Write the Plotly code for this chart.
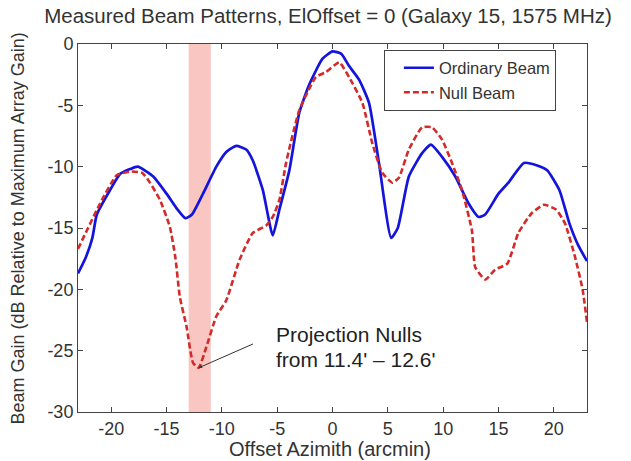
import plotly.graph_objects as go

# Ordinary beam
ord_x = [-23, -22.3, -21.7, -21.3, -20.1, -19.2, -18.3, -17.6, -16.2, -15, -14, -13.3, -12.7, -11.7, -10.5,
         -9.6, -8.7, -7.8, -7.2, -6.3, -5.4, -4.8, -3.9, -3, -2.1, -0.9, 0, 0.8, 1.5, 2.4, 3.3,
         4.2, 5.3, 5.9, 6.9, 8.1, 8.9, 9.9, 11.1, 12.3, 13.2, 13.8, 15, 15.9, 17.3, 18.5,
         19.4, 20.5, 21.4, 22.2, 23]
ord_y = [-18.7, -17.4, -15.8, -13.9, -11.9, -10.6, -10.2, -10.0, -10.8, -12.2, -13.5, -14.2, -13.9, -12.2, -10.0,
         -8.8, -8.3, -8.6, -9.5, -11.9, -15.6, -13.5, -10.3, -5.6, -3.3, -1.2, -0.6, -0.8, -1.8, -2.9, -4.8,
         -9.7, -15.8, -15.0, -10.8, -8.9, -8.2, -9.2, -10.8, -13.0, -14.1, -13.9, -12.2, -11.3, -9.7, -9.9,
         -10.3, -11.9, -14.6, -16.4, -17.7]

# Null beam
null_x = [-23, -22.2, -21, -19.5, -18.3, -17.2, -16.5, -15.6, -14.7, -14.2, -13.8, -13.2, -12.6, -12.1,
          -11.4, -10.5, -9.6, -8.4, -7.2, -6.0, -5.4, -4.8, -4.2, -3.0, -1.5, -0.6, 0.6, 1.5, 2.7,
          3.6, 4.5, 5.4, 6.0, 6.9, 8.1, 9.0, 9.9, 10.8, 11.7, 12.6, 12.9, 13.8, 14.7, 15.8, 16.8,
          18.0, 19.1, 20.2, 21.0, 21.9, 22.6, 23]
null_y = [-16.7, -15.2, -13.0, -10.7, -10.4, -10.5, -11.3, -12.7, -14.9, -17.4, -20.6, -23.0, -26.0, -26.4,
          -24.7, -22.2, -20.9, -17.6, -15.4, -14.8, -14.1, -12.7, -9.7, -5.4, -2.7, -2.3, -1.5, -2.7, -4.8,
          -8.1, -10.5, -11.3, -10.9, -8.6, -6.8, -6.8, -7.8, -9.7, -11.9, -15.2, -18.2, -19.2, -18.4, -17.9, -15.4,
          -13.8, -13.1, -13.5, -14.6, -17.3, -20.0, -22.7]

band_x = [-13, -11]
null_point = [-12.1, -26.4]
arrow_tail = [-7.05, -24.4]
x_ticks = [-20, -15, -10, -5, 0, 5, 10, 15, 20]
x_ticktext = ["-20", "-15", "-10", "-5", "0", "5", "10", "15", "20"]
y_ticks = [0, -5, -10, -15, -20, -25, -30]
y_ticktext = ["0", "-5", "-10", "-15", "-20", "-25", "-30"]

FONT = "Liberation Sans, Arial, sans-serif"
TXT = "#333333"

fig = go.Figure()
fig.add_trace(go.Scatter(x=ord_x, y=ord_y, mode="lines", name="Ordinary Beam",
                         line=dict(color="#1414dc", width=2.7, shape="spline", smoothing=0.5)))
fig.add_trace(go.Scatter(x=null_x, y=null_y, mode="lines", name="Null Beam",
                         line=dict(color="#d42a2a", width=2.6, dash="6px,3px", shape="spline", smoothing=0.5)))

fig.add_vrect(x0=band_x[0], x1=band_x[1], fillcolor="#f9c6c2", line_width=0, layer="below")

fig.add_annotation(x=null_point[0], y=null_point[1], ax=arrow_tail[0], ay=arrow_tail[1], axref="x", ayref="y",
                   xref="x", yref="y", text="", showarrow=True, arrowhead=2, arrowsize=0.7,
                   arrowwidth=1, arrowcolor="#333333")
fig.add_annotation(x=-5.3, y=-23.7, xref="x", yref="y", xanchor="left", yanchor="middle",
                   text="Projection Nulls", showarrow=False,
                   font=dict(family=FONT, size=21, color="#222222"))
fig.add_annotation(x=-5.3, y=-25.75, xref="x", yref="y", xanchor="left", yanchor="middle",
                   text="from 11.4' \u2013 12.6'", showarrow=False,
                   font=dict(family=FONT, size=21, color="#222222"))

# axis titles
fig.add_annotation(x=0.495, y=-0.1, xref="paper", yref="paper", xanchor="center", yanchor="middle",
                   text="Offset Azimith (arcmin)", showarrow=False,
                   font=dict(family=FONT, size=20, color=TXT))
fig.add_annotation(x=-0.117, y=0.5, xref="paper", yref="paper", xanchor="center", yanchor="middle",
                   text="Beam Gain (dB Relative to Maximum Array Gain)", textangle=-90, showarrow=False,
                   font=dict(family=FONT, size=18, color=TXT))

fig.update_layout(
    width=631, height=461,
    margin=dict(l=78, r=44, t=44, b=49),
    paper_bgcolor="white", plot_bgcolor="white",
    font=dict(family=FONT, size=16, color=TXT),
    title=dict(text="Measured Beam Patterns, ElOffset = 0 (Galaxy 15, 1575 MHz)",
               x=328 / 631, xanchor="center", xref="container",
               y=1 - 16 / 461, yanchor="middle", yref="container",
               font=dict(family=FONT, size=20.5, color=TXT)),
    showlegend=True,
    legend=dict(x=0.601, y=0.985, xanchor="left", yanchor="top", indentation=14,
                bgcolor="white", bordercolor="#444444", borderwidth=1,
                font=dict(family=FONT, size=16.5, color=TXT), tracegroupgap=0),
    xaxis=dict(range=[-23, 23], tickvals=x_ticks, ticktext=x_ticktext, ticks="inside", ticklen=5,
               tickcolor="#444", showline=True, linecolor="#444", linewidth=1, mirror="ticks",
               showgrid=False, zeroline=False, tickfont=dict(family=FONT, size=18, color=TXT)),
    yaxis=dict(range=[-30, 0], tickvals=y_ticks, ticktext=y_ticktext, ticks="inside", ticklen=5,
               tickcolor="#444", showline=True, linecolor="#444", linewidth=1, mirror="ticks",
               showgrid=False, zeroline=False, tickfont=dict(family=FONT, size=18, color=TXT)),
)

fig.write_html("out.html", config={"displayModeBar": False},
               post_script="document.body.style.margin='0px';")
